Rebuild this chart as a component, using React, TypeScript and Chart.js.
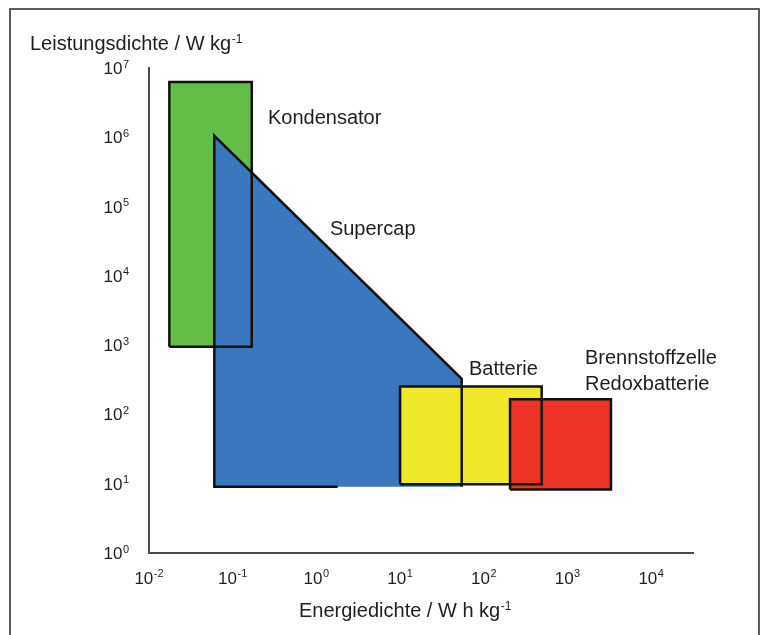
import React, { useEffect, useRef } from "react";
import { Chart, registerables } from "chart.js";

Chart.register(...registerables);

// ---- data (energy density in W h/kg, power density in W/kg) ----
const xDecades = [-2, -1, 0, 1, 2, 3, 4];
const yDecades = [0, 1, 2, 3, 4, 5, 6, 7];
const xMin = 0.01;
const xMax = 31623;
const yMin = 1;
const yMax = 1e7;

const kondensatorX = [0.0175, 0.169];
const kondensatorY = [950, 6.3e6];

const supercapX = [0.0603, 54.5, 54.5, 0.0603];
const supercapY = [1.05e6, 327, 9.05, 9.05];
const supercapOutlineX = [1.8, 0.0603, 0.0603, 54.5, 54.5];
const supercapOutlineY = [9.05, 9.05, 1.05e6, 327, 9.05];

const batterieX = [10, 492];
const batterieY = [9.8, 253];

const brennstoffX = [206, 3310];
const brennstoffY = [8.24, 166];

const labelTexts = ["Kondensator", "Supercap", "Batterie", "Brennstoffzelle", "Redoxbatterie"];
const labelX = [0.264, 1.45, 66.6, 1618, 1618];
const labelY = [1.85e6, 47200, 442, 637, 268];

const yTitle = "Leistungsdichte / W kg";
const xTitle = "Energiedichte / W h kg";
const titleSup = "-1";

// ---- styles ----
const FONT = '"Liberation Sans", Arial, Helvetica, sans-serif';
const TEXT = "#1e1e1e";
const GREEN = "#63bd49";
const BLUE = "#3a77bd";
const YELLOW = "#efe82b";
const RED = "#ec3328";
const OUTLINE = "#111111";

function rect(xs: number[], ys: number[]) {
  return [
    { x: xs[0], y: ys[0] },
    { x: xs[1], y: ys[0] },
    { x: xs[1], y: ys[1] },
    { x: xs[0], y: ys[1] },
    { x: xs[0], y: ys[0] },
  ];
}

function poly(xs: number[], ys: number[], close: boolean) {
  const pts = xs.map((x, i) => ({ x, y: ys[i] }));
  if (close) pts.push({ x: xs[0], y: ys[0] });
  return pts;
}

function fillSet(data: any[], color: string, order: number) {
  return {
    data,
    showLine: true,
    fill: "shape",
    backgroundColor: color,
    borderColor: "rgba(0,0,0,0)",
    borderWidth: 1,
    pointRadius: 0,
    pointHoverRadius: 0,
    tension: 0,
    order,
  };
}

function outlineSet(data: any[]) {
  return {
    data,
    showLine: true,
    fill: false,
    backgroundColor: "rgba(0,0,0,0)",
    borderColor: OUTLINE,
    borderWidth: 2.5,
    borderJoinStyle: "miter",
    borderCapStyle: "butt",
    pointRadius: 0,
    pointHoverRadius: 0,
    tension: 0,
    order: 0,
  };
}

function drawPow(
  ctx: CanvasRenderingContext2D,
  base: string,
  sup: string,
  x: number,
  baseline: number,
  align: "left" | "center" | "right",
  baseSize: number,
  supSize: number,
  raise: number
) {
  ctx.font = `${baseSize}px ${FONT}`;
  const wb = ctx.measureText(base).width;
  ctx.font = `${supSize}px ${FONT}`;
  const ws = ctx.measureText(sup).width;
  const total = wb + ws + 0.5;
  const start = align === "center" ? x - total / 2 : align === "right" ? x - total : x;
  ctx.textAlign = "left";
  ctx.textBaseline = "alphabetic";
  ctx.font = `${baseSize}px ${FONT}`;
  ctx.fillText(base, start, baseline);
  ctx.font = `${supSize}px ${FONT}`;
  ctx.fillText(sup, start + wb + 0.5, baseline - raise);
}

const overlayPlugin = {
  id: "overlayText",
  afterDraw(chart: any) {
    const ctx: CanvasRenderingContext2D = chart.ctx;
    const xs = chart.scales.x;
    const ys = chart.scales.y;
    const area = chart.chartArea;
    ctx.save();
    ctx.fillStyle = TEXT;

    // region labels
    ctx.font = `20px ${FONT}`;
    ctx.textAlign = "left";
    ctx.textBaseline = "middle";
    labelTexts.forEach((t, i) => {
      ctx.fillText(t, xs.getPixelForValue(labelX[i]), ys.getPixelForValue(labelY[i]));
    });

    // tick labels
    xs.ticks.forEach((tk: any) => {
      const e = Math.round(Math.log10(tk.value));
      drawPow(ctx, "10", String(e), xs.getPixelForValue(tk.value), area.bottom + 30.5, "center", 17, 11, 6.5);
    });
    ys.ticks.forEach((tk: any) => {
      const e = Math.round(Math.log10(tk.value));
      drawPow(ctx, "10", String(e), area.left - 20, ys.getPixelForValue(tk.value) + 6, "right", 17, 11, 6.5);
    });

    // axis titles
    drawPow(ctx, yTitle, titleSup, 30, 49.5, "left", 20, 12, 7);
    drawPow(ctx, xTitle, titleSup, (area.left + area.right) / 2 - 122, area.bottom + 64, "left", 20, 12, 7);
    ctx.restore();
  },
};

export default function App() {
  const ref = useRef<HTMLCanvasElement>(null);

  useEffect(() => {
    if (!ref.current) return;
    const chart = new Chart(ref.current, {
      type: "scatter",
      data: {
        datasets: [
          outlineSet(rect(kondensatorX, kondensatorY)),
          outlineSet(poly(supercapOutlineX, supercapOutlineY, false)),
          outlineSet(rect(batterieX, batterieY)),
          outlineSet(rect(brennstoffX, brennstoffY)),
          fillSet(rect(brennstoffX, brennstoffY), RED, 1),
          fillSet(rect(batterieX, batterieY), YELLOW, 2),
          fillSet(poly(supercapX, supercapY, true), BLUE, 3),
          fillSet(rect(kondensatorX, kondensatorY), GREEN, 4),
        ] as any,
      },
      options: {
        animation: false,
        responsive: false,
        devicePixelRatio: 1,
        events: [],
        layout: { padding: { top: 68, right: 67, left: 0, bottom: 0 } },
        plugins: {
          legend: { display: false },
          tooltip: { enabled: false },
          title: { display: false },
        },
        scales: {
          x: {
            type: "logarithmic",
            min: xMin,
            max: xMax,
            afterBuildTicks: (s: any) => {
              s.ticks = xDecades.map((e) => ({ value: Math.pow(10, e) }));
            },
            afterFit: (s: any) => {
              s.height = 82;
            },
            ticks: { display: false },
            grid: { display: false },
            border: { display: true, color: "#4a4a4a", width: 2 },
          },
          y: {
            type: "logarithmic",
            min: yMin,
            max: yMax,
            afterBuildTicks: (s: any) => {
              s.ticks = yDecades.map((e) => ({ value: Math.pow(10, e) }));
            },
            afterFit: (s: any) => {
              s.width = 149;
            },
            ticks: { display: false },
            grid: { display: false },
            border: { display: true, color: "#4a4a4a", width: 2 },
          },
        },
      } as any,
      plugins: [overlayPlugin],
    });
    return () => chart.destroy();
  }, []);

  return (
    <div
      style={{
        position: "fixed",
        left: 0,
        top: 0,
        width: 760,
        height: 635,
        overflow: "hidden",
        background: "#ffffff",
      }}
    >
      <div
        style={{
          position: "absolute",
          left: 9,
          top: 8,
          width: 751,
          height: 700,
          boxSizing: "border-box",
          borderTop: "2px solid #5c5c5c",
          borderLeft: "2px solid #5c5c5c",
          borderRight: "2px solid #5c5c5c",
        }}
      />
      <canvas
        ref={ref}
        width={760}
        height={635}
        style={{ position: "absolute", left: 0, top: 0, width: 760, height: 635 }}
      />
    </div>
  );
}
